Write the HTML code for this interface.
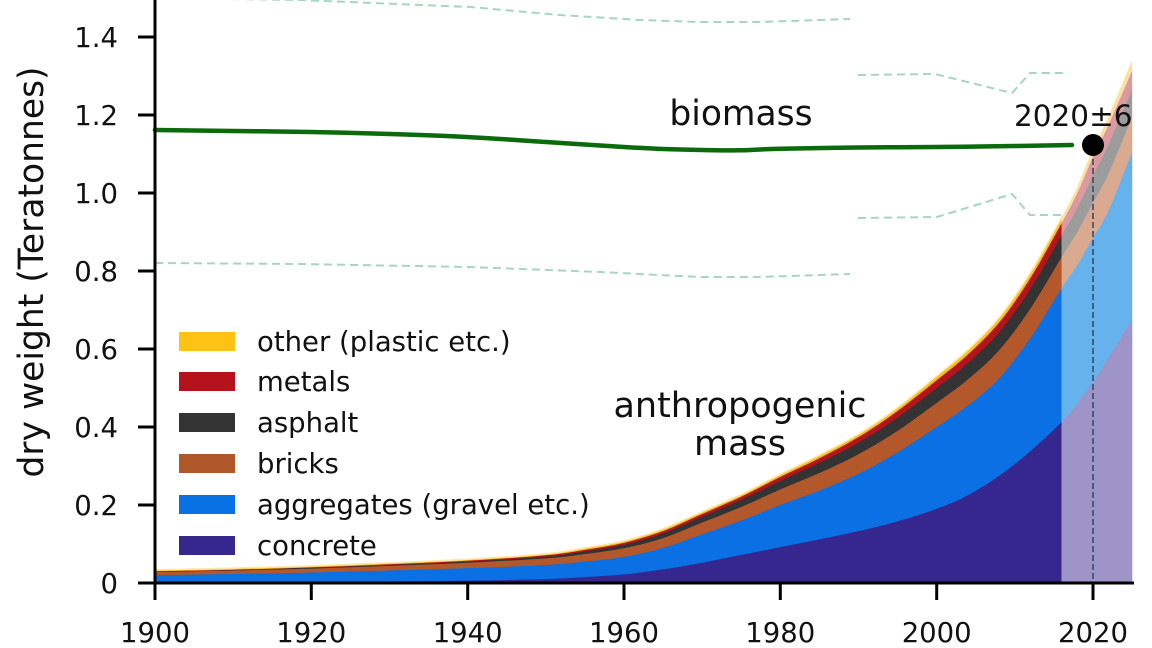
<!DOCTYPE html>
<html>
<head>
<meta charset="utf-8">
<style>
  html,body{margin:0;padding:0;background:#fff;}
  svg{display:block;}
  text{font-family:"DejaVu Sans","Liberation Sans",sans-serif;fill:#111;}
</style>
</head>
<body>
<svg id="chart" width="1152" height="648" viewBox="0 0 1152 648" xmlns="http://www.w3.org/2000/svg">
  <defs>
    <clipPath id="clipA"><rect x="0" y="0" width="1061.8" height="648"/></clipPath>
    <clipPath id="clipP"><rect x="1061.8" y="0" width="90" height="648"/></clipPath>
  </defs>
  <rect x="0" y="0" width="1152" height="648" fill="#fff"/>

  <!-- fallback static areas (replaced by script) -->
  <g id="fallback">
    <path fill="#f9c01a" d="M155,583 L155,569.7 L233.2,568.2 L311.3,565.8 L389.5,562.7 L467.7,559.2 L545.8,553.8 L584.9,549.9 L624,544 L663.1,531.9 L702.2,512.8 L741.3,486.3 L780.3,460.9 L819.4,440.7 L858.5,421.2 L897.6,398.1 L936.7,370.8 L967.9,350.2 L999.2,315.1 L1030.5,269.1 L1061.8,217.2 L1061.8,583 Z"/>
    <path fill="#b3141c" d="M155,583 L155,571.3 L233.2,569.7 L311.3,567.4 L389.5,564.3 L467.7,560.8 L545.8,555.3 L584.9,551.4 L624,545.6 L663.1,533.5 L702.2,514.8 L741.3,488.2 L780.3,463.3 L819.4,443.4 L858.5,424.3 L897.6,401.7 L936.7,374.7 L967.9,354.5 L999.2,319.8 L1030.5,274.1 L1061.8,223 L1061.8,583 Z"/>
    <path fill="#333333" d="M155,583 L155,571.7 L233.2,570.1 L311.3,567.8 L389.5,565.1 L467.7,561.6 L545.8,556.5 L584.9,552.6 L624,547.1 L663.1,535.4 L702.2,517.5 L741.3,491.4 L780.3,467.2 L819.4,448.1 L858.5,430.1 L897.6,408.7 L936.7,382.9 L967.9,363.4 L999.2,329.5 L1030.5,285 L1061.8,235.1 L1061.8,583 Z"/>
    <path fill="#b2582b" d="M155,583 L155,572.1 L233.2,570.5 L311.3,568.6 L389.5,565.8 L467.7,562.7 L545.8,558.4 L584.9,554.9 L624,550.2 L663.1,539.7 L702.2,522.9 L741.3,498.4 L780.3,475.8 L819.4,458.2 L858.5,441.8 L897.6,422.3 L936.7,398.5 L967.9,380.2 L999.2,347.8 L1030.5,304.9 L1061.8,257 L1061.8,583 Z"/>
    <path fill="#0a70e3" d="M155,583 L155,575.2 L233.2,574 L311.3,572.5 L389.5,570.5 L467.7,568.2 L545.8,564.7 L584.9,561.6 L624,557.3 L663.1,547.9 L702.2,532.3 L741.3,508.9 L780.3,487.5 L819.4,471.9 L858.5,457.4 L897.6,440.7 L936.7,420 L967.9,403.6 L999.2,373.2 L1030.5,333 L1061.8,288.2 L1061.8,583 Z"/>
    <path fill="#36278e" d="M155,583 L155,582.2 L233.2,582.2 L311.3,581.8 L389.5,581.4 L467.7,580.7 L545.8,579.1 L584.9,577.2 L624,574.4 L663.1,570.9 L702.2,565.5 L741.3,558 L780.3,549.9 L819.4,542.1 L858.5,534.3 L897.6,524.5 L936.7,512.8 L967.9,499.9 L999.2,480 L1030.5,453.1 L1061.8,421.9 L1061.8,583 Z"/>
    <path fill="#fce0a0" d="M1061.8,583 L1061.8,217.2 L1077.4,187.2 L1093,147 L1108.7,115 L1132.1,62.4 L1132.1,583 Z"/>
    <path fill="#dc9aa0" d="M1061.8,583 L1061.8,223 L1077.4,193.8 L1093,155.9 L1108.7,124.8 L1132.1,74.1 L1132.1,583 Z"/>
    <path fill="#9c9c9c" d="M1061.8,583 L1061.8,235.1 L1077.4,207.8 L1093,177.4 L1108.7,144.3 L1132.1,91.6 L1132.1,583 Z"/>
    <path fill="#d9aa90" d="M1061.8,583 L1061.8,257 L1077.4,232 L1093,204.7 L1108.7,173.5 L1132.1,118.9 L1132.1,583 Z"/>
    <path fill="#65b2ed" d="M1061.8,583 L1061.8,288.2 L1077.4,265.2 L1093,239.8 L1108.7,210.6 L1132.1,152.1 L1132.1,583 Z"/>
    <path fill="#9e94c8" d="M1061.8,583 L1061.8,421.9 L1077.4,402.8 L1093,382.2 L1108.7,358.8 L1132.1,319.8 L1132.1,583 Z"/>
  </g>
  <g id="areas"></g>

  <!-- uncertainty dashed lines -->
  <g fill="none" stroke="#a6d6bf" stroke-width="2" stroke-dasharray="8 5">
    <polyline points="155,-2 300,0 470,7 560,15 640,20 700,22 760,22 850,19"/>
    <polyline points="155,263 300,264 470,267 600,272 700,277 760,277 850,274"/>
    <polyline points="858,75 935,74 1012,93 1030,73 1065,73"/>
    <polyline points="858,218 937,217 1012,194 1030,215 1062,215"/>
  </g>

  <!-- biomass line -->
  <path id="bio" fill="none" stroke="#0b6a0b" stroke-width="4.5" stroke-linejoin="round" stroke-linecap="round"
    d="M155,130 L233,131 L311,132 L390,134 L467,137 L546,142 L624,147 L663,149 L702,150 L741,150.5 L780,148.5 L858,147.5 L936,147 L1014,146 L1072,145"/>

  <!-- vertical dashed line at 2020 -->
  <line x1="1093" y1="150" x2="1093" y2="583" stroke="#3c4a66" stroke-width="1.6" stroke-dasharray="6 3"/>
  <circle cx="1093" cy="145" r="11" fill="#000"/>

  <!-- annotations -->
  <text x="1014" y="126" font-size="29.5">2020±6</text>
  <text x="741" y="125" font-size="34.5" text-anchor="middle">biomass</text>
  <text x="740" y="417" font-size="35" text-anchor="middle">anthropogenic</text>
  <text x="740" y="455" font-size="35" text-anchor="middle">mass</text>

  <!-- axes -->
  <g stroke="#000" stroke-width="3" fill="none">
    <line x1="155" y1="0" x2="155" y2="585"/>
    <line x1="153.5" y1="583" x2="1134" y2="583"/>
    <line x1="138" y1="583" x2="155" y2="583"/>
    <line x1="138" y1="505" x2="155" y2="505"/>
    <line x1="138" y1="427" x2="155" y2="427"/>
    <line x1="138" y1="349" x2="155" y2="349"/>
    <line x1="138" y1="271" x2="155" y2="271"/>
    <line x1="138" y1="193" x2="155" y2="193"/>
    <line x1="138" y1="115" x2="155" y2="115"/>
    <line x1="138" y1="37" x2="155" y2="37"/>
    <line x1="155" y1="583" x2="155" y2="600"/>
    <line x1="311.3" y1="583" x2="311.3" y2="600"/>
    <line x1="467.7" y1="583" x2="467.7" y2="600"/>
    <line x1="624" y1="583" x2="624" y2="600"/>
    <line x1="780.3" y1="583" x2="780.3" y2="600"/>
    <line x1="936.7" y1="583" x2="936.7" y2="600"/>
    <line x1="1093" y1="583" x2="1093" y2="600"/>
  </g>

  <!-- y tick labels -->
  <g font-size="27.5" text-anchor="end">
    <text x="118" y="593">0</text>
    <text x="118" y="515">0.2</text>
    <text x="118" y="437">0.4</text>
    <text x="118" y="359">0.6</text>
    <text x="118" y="281">0.8</text>
    <text x="118" y="203">1.0</text>
    <text x="118" y="125">1.2</text>
    <text x="118" y="47">1.4</text>
  </g>

  <!-- x tick labels -->
  <g font-size="27.5" text-anchor="middle">
    <text x="155" y="642">1900</text>
    <text x="311.3" y="642">1920</text>
    <text x="467.7" y="642">1940</text>
    <text x="624" y="642">1960</text>
    <text x="780.3" y="642">1980</text>
    <text x="936.7" y="642">2000</text>
    <text x="1093" y="642">2020</text>
  </g>

  <!-- y axis label -->
  <text transform="translate(43,272) rotate(-90)" font-size="34.5" text-anchor="middle">dry weight (Teratonnes)</text>

  <!-- legend -->
  <g>
    <rect x="179" y="332" width="56" height="19" fill="#fdc214"/>
    <rect x="179" y="372" width="56" height="19" fill="#b5121b"/>
    <rect x="179" y="413" width="56" height="19" fill="#333333"/>
    <rect x="179" y="454" width="56" height="19" fill="#b0572a"/>
    <rect x="179" y="495" width="56" height="19" fill="#0872e4"/>
    <rect x="179" y="536" width="56" height="19" fill="#36278f"/>
  </g>
  <g font-size="27.5">
    <text x="257" y="351">other (plastic etc.)</text>
    <text x="257" y="391">metals</text>
    <text x="257" y="432">asphalt</text>
    <text x="257" y="473">bricks</text>
    <text x="257" y="514">aggregates (gravel etc.)</text>
    <text x="257" y="555">concrete</text>
  </g>
</svg>
<script>
(function(){
  try{
  var NS="http://www.w3.org/2000/svg";
  var yrs=[1900,1910,1920,1930,1940,1950,1955,1960,1965,1970,1975,1980,1985,1990,1995,2000,2004,2008,2012,2016,2018,2020,2022,2025];
  var C =[.002,.002,.003,.004,.006,.010,.015,.022,.035,.052,.072,.092,.112,.133,.158,.190,.225,.275,.338,.413,.460,.515,.578,.675];
  var At=[.018,.021,.024,.028,.032,.036,.040,.045,.055,.073,.088,.108,.125,.147,.177,.210,.230,.250,.290,.343,.355,.370,.377,.430];
  var Bt=[.008,.009,.010,.012,.014,.017,.019,.022,.025,.030,.035,.040,.045,.050,.055,.062,.067,.072,.076,.080,.085,.090,.095,.090];
  var St=[.001,.001,.002,.002,.003,.005,.007,.009,.012,.015,.018,.022,.026,.030,.034,.038,.042,.046,.050,.056,.062,.070,.075,.070];
  var Mt=[.001,.001,.001,.002,.002,.003,.004,.005,.006,.007,.008,.010,.012,.014,.017,.020,.022,.025,.028,.031,.038,.048,.050,.048];
  var Ot=[.004,.004,.004,.004,.004,.004,.005,.005,.006,.006,.006,.007,.008,.008,.009,.011,.012,.013,.014,.015,.017,.020,.022,.028];
  var A=[],B=[],S=[],M=[],O=[];
  for(var i=0;i<yrs.length;i++){A[i]=C[i]+At[i];B[i]=A[i]+Bt[i];S[i]=B[i]+St[i];M[i]=S[i]+Mt[i];O[i]=M[i]+Ot[i];}
  function X(y){return 155+(y-1900)*7.8167;}
  function Y(v){return 583-v*390;}
  function curve(pts){
    var d="M"+pts[0][0].toFixed(2)+","+pts[0][1].toFixed(2);
    for(var i=0;i<pts.length-1;i++){
      var p0=pts[i>0?i-1:i],p1=pts[i],p2=pts[i+1],p3=pts[i+2<pts.length?i+2:i+1];
      var c1x=p1[0]+(p2[0]-p0[0])/6,c1y=p1[1]+(p2[1]-p0[1])/6;
      var c2x=p2[0]-(p3[0]-p1[0])/6,c2y=p2[1]-(p3[1]-p1[1])/6;
      d+=" C"+c1x.toFixed(2)+","+c1y.toFixed(2)+" "+c2x.toFixed(2)+","+c2y.toFixed(2)+" "+p2[0].toFixed(2)+","+p2[1].toFixed(2);
    }
    return d;
  }
  function area(arr){
    var pts=[];for(var i=0;i<yrs.length;i++)pts.push([X(yrs[i]),Y(arr[i])]);
    return curve(pts)+" L"+X(2025).toFixed(2)+",583 L155,583 Z";
  }
  var layers=[[O,"#f9c01a","#fce0a0"],[M,"#b3141c","#dc9aa0"],[S,"#333333","#9c9c9c"],[B,"#b2582b","#d9aa90"],[A,"#0a70e3","#65b2ed"],[C,"#36278e","#9e94c8"]];
  var g=document.getElementById("areas");
  var ga=document.createElementNS(NS,"g");ga.setAttribute("clip-path","url(#clipA)");
  var gp=document.createElementNS(NS,"g");gp.setAttribute("clip-path","url(#clipP)");
  for(var k=0;k<layers.length;k++){
    var d=area(layers[k][0]);
    var p1=document.createElementNS(NS,"path");p1.setAttribute("d",d);p1.setAttribute("fill",layers[k][1]);
    if(k==0){p1.setAttribute("stroke","#fde7b0");p1.setAttribute("stroke-width","1.5");}
    ga.appendChild(p1);
    var p2=document.createElementNS(NS,"path");p2.setAttribute("d",d);p2.setAttribute("fill",layers[k][2]);
    gp.appendChild(p2);
  }
  g.appendChild(ga);g.appendChild(gp);
  var fb=document.getElementById("fallback");fb.parentNode.removeChild(fb);
  var bio=[[155,130],[233,131],[311,132],[390,134],[467,137],[546,142],[624,147],[663,149],[702,150],[741,150.3],[780,148.7],[858,147.5],[936,147],[1014,146],[1072,145]];
  document.getElementById("bio").setAttribute("d",curve(bio));
  }catch(e){}
})();
</script>
</body>
</html>
